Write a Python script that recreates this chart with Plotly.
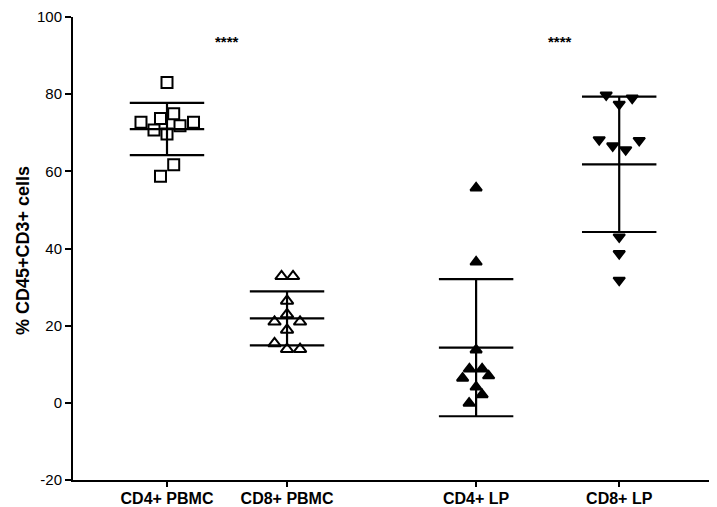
import numpy as np
import plotly.graph_objects as go

# ---- data ----
categories = ["CD4+ PBMC", "CD8+ PBMC", "CD4+ LP", "CD8+ LP"]
cd4_pbmc = [83.0, 74.9, 73.7, 72.7, 72.7, 71.8, 70.7, 69.7, 61.7, 58.7]
cd8_pbmc = [32.8, 32.8, 26.4, 22.9, 21.0, 21.0, 18.9, 15.4, 13.9, 13.9]
cd4_lp = [55.7, 36.5, 13.7, 8.8, 8.8, 7.0, 6.4, 4.1, 2.1, -0.1]
cd8_lp = [79.8, 79.0, 77.4, 68.2, 68.0, 66.6, 65.6, 43.0, 38.7, 31.8]
significance = ["****", "****"]
y_ticks = [-20, 0, 20, 40, 60, 80, 100]
y_ticktext = ["-20", "0", "20", "40", "60", "80", "100"]
y_title = "% CD45+CD3+ cells"

# ---- layout / positions (not data) ----
group_pos = [1.0, 2.0, 3.575, 4.767]
px_per_unit = 120.0
jitter_px = [
    [0, 6.7, -6.5, -26, 26.5, 13, -13, 0, 6.7, -6.5],
    [-5.5, 6, 0, 0, -12.5, 13, 0, -12.5, 0, 13],
    [0, 0, 0, -6.7, 6, 12.5, -13.5, 0, 6, -7],
    [-13, 13, 0, -20, 20, -6.5, 6.5, 0, 0, 0],
]
symbols = ["square-open", "triangle-up-open", "triangle-up", "triangle-down"]
sizes = [11, 11, 10, 10]
series = [cd4_pbmc, cd8_pbmc, cd4_lp, cd8_lp]
cap_half = 0.31
FONT = "Liberation Sans, Arial"

fig = go.Figure()
for i, vals in enumerate(series):
    v = np.array(vals)
    m = v.mean()
    sd = v.std(ddof=1)
    c = group_pos[i]
    xs = [c + j / px_per_unit for j in jitter_px[i]]
    fig.add_trace(go.Scatter(
        x=[c, c, None, c - cap_half, c + cap_half, None,
           c - cap_half, c + cap_half, None, c - cap_half, c + cap_half],
        y=[m - sd, m + sd, None, m + sd, m + sd, None,
           m, m, None, m - sd, m - sd],
        mode="lines", line=dict(color="black", width=2.2),
        hoverinfo="skip", showlegend=False))
    fig.add_trace(go.Scatter(
        x=xs, y=vals, mode="markers", showlegend=False,
        marker=dict(symbol=symbols[i], size=sizes[i], color="black",
                    line=dict(color="black", width=2))))

star_x = [(group_pos[0] + group_pos[1]) / 2, 4.27]
for sx, s in zip(star_x, significance):
    fig.add_annotation(x=sx, y=93.6, text="<b>%s</b>" % s, showarrow=False,
                       font=dict(family=FONT, size=15, color="black"))

fig.add_annotation(xref="paper", yref="paper", x=-0.078, y=0.495,
                   xanchor="center", yanchor="middle", textangle=-90,
                   text="<b>%s</b>" % y_title, showarrow=False,
                   font=dict(family=FONT, size=18, color="black"))

fig.update_layout(
    width=709, height=499,
    margin=dict(l=65, r=5, t=9, b=27, autoexpand=False),
    paper_bgcolor="white", plot_bgcolor="white",
    font=dict(family=FONT, color="black"),
)
fig.update_xaxes(
    range=[0.217, 5.54], tickmode="array", tickvals=group_pos,
    ticktext=["<b>%s</b>" % c for c in categories],
    ticks="outside", ticklen=5, tickwidth=2, tickcolor="black",
    showline=True, linecolor="black", linewidth=2,
    showgrid=False, zeroline=False, automargin=False,
    ticklabelstandoff=-2,
    tickfont=dict(size=16, family=FONT, color="black"),
)
fig.update_yaxes(
    range=[-20, 100], tickmode="array", tickvals=y_ticks, ticktext=y_ticktext,
    ticks="outside", ticklen=6, tickwidth=2, tickcolor="black",
    showline=True, linecolor="black", linewidth=2,
    showgrid=False, zeroline=False, automargin=False,
    tickfont=dict(size=15, family=FONT, color="black"),
)

fig.write_html("out.html")
